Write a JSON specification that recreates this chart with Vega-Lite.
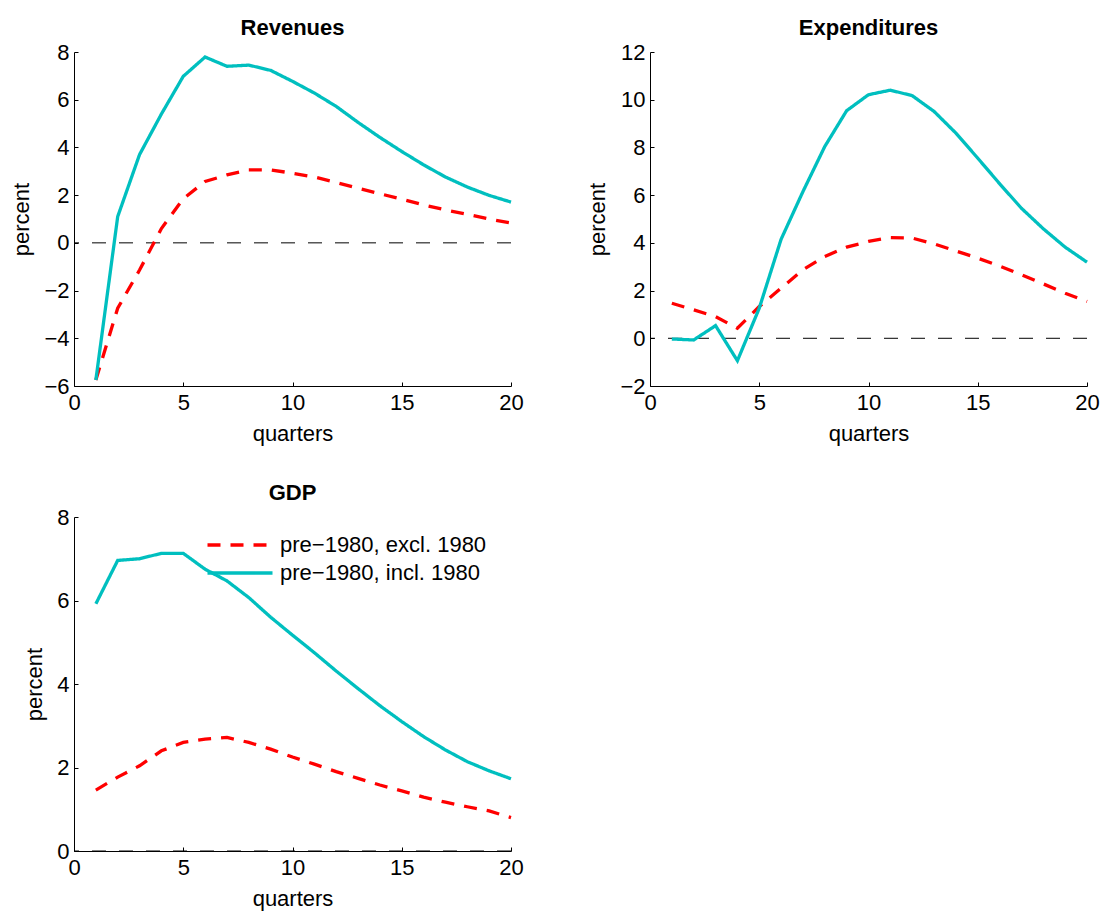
{
  "$schema": "https://vega.github.io/schema/vega-lite/v6.json",
  "padding": {"left": 10, "top": 17, "right": 5, "bottom": 5},
  "background": "white",
  "bounds": "flush",
  "columns": 2,
  "spacing": {"row": 131, "column": 139},
  "config": {
    "font": "Liberation Sans",
    "view": {"stroke": null},
    "axis": {
      "grid": false,
      "domainColor": "#000000",
      "tickColor": "#000000",
      "labelColor": "#000000",
      "titleColor": "#000000",
      "labelFontSize": 22,
      "titleFontSize": 22,
      "titleFontWeight": "normal",
      "tickSize": -4,
      "labelPadding": 10,
      "labelFlush": false,
      "labelOverlap": false,
      "labelFont": "Liberation Sans",
      "titleFont": "Liberation Sans"
    },
    "axisY": {"titlePadding": 10, "labelPadding": 9},
    "axisX": {"titlePadding": 10},
    "title": {"fontSize": 22, "fontWeight": "bold", "color": "#000000", "offset": 1, "font": "Liberation Sans"},
    "legend": {"labelFontSize": 22, "labelColor": "#000000", "labelFont": "Liberation Sans", "padding": 0, "labelLimit": 0}
  },
  "datasets": {
    "zero": [{"z": 0}],
    "d": [
      {"panel": "Revenues", "s": "pre−1980, excl. 1980", "q": 1, "v": -5.75},
      {"panel": "Revenues", "s": "pre−1980, excl. 1980", "q": 2, "v": -2.74},
      {"panel": "Revenues", "s": "pre−1980, excl. 1980", "q": 3, "v": -1.14},
      {"panel": "Revenues", "s": "pre−1980, excl. 1980", "q": 4, "v": 0.6},
      {"panel": "Revenues", "s": "pre−1980, excl. 1980", "q": 5, "v": 1.85},
      {"panel": "Revenues", "s": "pre−1980, excl. 1980", "q": 6, "v": 2.57},
      {"panel": "Revenues", "s": "pre−1980, excl. 1980", "q": 7, "v": 2.85},
      {"panel": "Revenues", "s": "pre−1980, excl. 1980", "q": 8, "v": 3.06},
      {"panel": "Revenues", "s": "pre−1980, excl. 1980", "q": 9, "v": 3.06},
      {"panel": "Revenues", "s": "pre−1980, excl. 1980", "q": 10, "v": 2.92},
      {"panel": "Revenues", "s": "pre−1980, excl. 1980", "q": 11, "v": 2.76},
      {"panel": "Revenues", "s": "pre−1980, excl. 1980", "q": 12, "v": 2.53},
      {"panel": "Revenues", "s": "pre−1980, excl. 1980", "q": 13, "v": 2.29},
      {"panel": "Revenues", "s": "pre−1980, excl. 1980", "q": 14, "v": 2.06},
      {"panel": "Revenues", "s": "pre−1980, excl. 1980", "q": 15, "v": 1.83},
      {"panel": "Revenues", "s": "pre−1980, excl. 1980", "q": 16, "v": 1.59},
      {"panel": "Revenues", "s": "pre−1980, excl. 1980", "q": 17, "v": 1.38},
      {"panel": "Revenues", "s": "pre−1980, excl. 1980", "q": 18, "v": 1.2},
      {"panel": "Revenues", "s": "pre−1980, excl. 1980", "q": 19, "v": 1.0},
      {"panel": "Revenues", "s": "pre−1980, excl. 1980", "q": 20, "v": 0.83},
      {"panel": "Revenues", "s": "pre−1980, incl. 1980", "q": 1, "v": -5.75},
      {"panel": "Revenues", "s": "pre−1980, incl. 1980", "q": 2, "v": 1.1},
      {"panel": "Revenues", "s": "pre−1980, incl. 1980", "q": 3, "v": 3.7},
      {"panel": "Revenues", "s": "pre−1980, incl. 1980", "q": 4, "v": 5.4},
      {"panel": "Revenues", "s": "pre−1980, incl. 1980", "q": 5, "v": 6.98},
      {"panel": "Revenues", "s": "pre−1980, incl. 1980", "q": 6, "v": 7.79},
      {"panel": "Revenues", "s": "pre−1980, incl. 1980", "q": 7, "v": 7.4},
      {"panel": "Revenues", "s": "pre−1980, incl. 1980", "q": 8, "v": 7.45},
      {"panel": "Revenues", "s": "pre−1980, incl. 1980", "q": 9, "v": 7.23},
      {"panel": "Revenues", "s": "pre−1980, incl. 1980", "q": 10, "v": 6.77},
      {"panel": "Revenues", "s": "pre−1980, incl. 1980", "q": 11, "v": 6.28},
      {"panel": "Revenues", "s": "pre−1980, incl. 1980", "q": 12, "v": 5.72},
      {"panel": "Revenues", "s": "pre−1980, incl. 1980", "q": 13, "v": 5.05},
      {"panel": "Revenues", "s": "pre−1980, incl. 1980", "q": 14, "v": 4.42},
      {"panel": "Revenues", "s": "pre−1980, incl. 1980", "q": 15, "v": 3.83},
      {"panel": "Revenues", "s": "pre−1980, incl. 1980", "q": 16, "v": 3.27},
      {"panel": "Revenues", "s": "pre−1980, incl. 1980", "q": 17, "v": 2.76},
      {"panel": "Revenues", "s": "pre−1980, incl. 1980", "q": 18, "v": 2.34},
      {"panel": "Revenues", "s": "pre−1980, incl. 1980", "q": 19, "v": 1.99},
      {"panel": "Revenues", "s": "pre−1980, incl. 1980", "q": 20, "v": 1.71},
      {"panel": "Expenditures", "s": "pre−1980, excl. 1980", "q": 1, "v": 1.47},
      {"panel": "Expenditures", "s": "pre−1980, excl. 1980", "q": 2, "v": 1.19},
      {"panel": "Expenditures", "s": "pre−1980, excl. 1980", "q": 3, "v": 0.91},
      {"panel": "Expenditures", "s": "pre−1980, excl. 1980", "q": 4, "v": 0.42},
      {"panel": "Expenditures", "s": "pre−1980, excl. 1980", "q": 5, "v": 1.33},
      {"panel": "Expenditures", "s": "pre−1980, excl. 1980", "q": 6, "v": 2.1},
      {"panel": "Expenditures", "s": "pre−1980, excl. 1980", "q": 7, "v": 2.87},
      {"panel": "Expenditures", "s": "pre−1980, excl. 1980", "q": 8, "v": 3.43},
      {"panel": "Expenditures", "s": "pre−1980, excl. 1980", "q": 9, "v": 3.82},
      {"panel": "Expenditures", "s": "pre−1980, excl. 1980", "q": 10, "v": 4.06},
      {"panel": "Expenditures", "s": "pre−1980, excl. 1980", "q": 11, "v": 4.22},
      {"panel": "Expenditures", "s": "pre−1980, excl. 1980", "q": 12, "v": 4.2},
      {"panel": "Expenditures", "s": "pre−1980, excl. 1980", "q": 13, "v": 3.96},
      {"panel": "Expenditures", "s": "pre−1980, excl. 1980", "q": 14, "v": 3.66},
      {"panel": "Expenditures", "s": "pre−1980, excl. 1980", "q": 15, "v": 3.36},
      {"panel": "Expenditures", "s": "pre−1980, excl. 1980", "q": 16, "v": 3.03},
      {"panel": "Expenditures", "s": "pre−1980, excl. 1980", "q": 17, "v": 2.66},
      {"panel": "Expenditures", "s": "pre−1980, excl. 1980", "q": 18, "v": 2.28},
      {"panel": "Expenditures", "s": "pre−1980, excl. 1980", "q": 19, "v": 1.89},
      {"panel": "Expenditures", "s": "pre−1980, excl. 1980", "q": 20, "v": 1.54},
      {"panel": "Expenditures", "s": "pre−1980, incl. 1980", "q": 1, "v": -0.03},
      {"panel": "Expenditures", "s": "pre−1980, incl. 1980", "q": 2, "v": -0.07},
      {"panel": "Expenditures", "s": "pre−1980, incl. 1980", "q": 3, "v": 0.53},
      {"panel": "Expenditures", "s": "pre−1980, incl. 1980", "q": 4, "v": -0.94},
      {"panel": "Expenditures", "s": "pre−1980, incl. 1980", "q": 5, "v": 1.26},
      {"panel": "Expenditures", "s": "pre−1980, incl. 1980", "q": 6, "v": 4.15},
      {"panel": "Expenditures", "s": "pre−1980, incl. 1980", "q": 7, "v": 6.15},
      {"panel": "Expenditures", "s": "pre−1980, incl. 1980", "q": 8, "v": 8.04},
      {"panel": "Expenditures", "s": "pre−1980, incl. 1980", "q": 9, "v": 9.54},
      {"panel": "Expenditures", "s": "pre−1980, incl. 1980", "q": 10, "v": 10.21},
      {"panel": "Expenditures", "s": "pre−1980, incl. 1980", "q": 11, "v": 10.4},
      {"panel": "Expenditures", "s": "pre−1980, incl. 1980", "q": 12, "v": 10.17},
      {"panel": "Expenditures", "s": "pre−1980, incl. 1980", "q": 13, "v": 9.51},
      {"panel": "Expenditures", "s": "pre−1980, incl. 1980", "q": 14, "v": 8.6},
      {"panel": "Expenditures", "s": "pre−1980, incl. 1980", "q": 15, "v": 7.55},
      {"panel": "Expenditures", "s": "pre−1980, incl. 1980", "q": 16, "v": 6.48},
      {"panel": "Expenditures", "s": "pre−1980, incl. 1980", "q": 17, "v": 5.45},
      {"panel": "Expenditures", "s": "pre−1980, incl. 1980", "q": 18, "v": 4.59},
      {"panel": "Expenditures", "s": "pre−1980, incl. 1980", "q": 19, "v": 3.82},
      {"panel": "Expenditures", "s": "pre−1980, incl. 1980", "q": 20, "v": 3.19},
      {"panel": "GDP", "s": "pre−1980, excl. 1980", "q": 1, "v": 1.46},
      {"panel": "GDP", "s": "pre−1980, excl. 1980", "q": 2, "v": 1.77},
      {"panel": "GDP", "s": "pre−1980, excl. 1980", "q": 3, "v": 2.04},
      {"panel": "GDP", "s": "pre−1980, excl. 1980", "q": 4, "v": 2.4},
      {"panel": "GDP", "s": "pre−1980, excl. 1980", "q": 5, "v": 2.6},
      {"panel": "GDP", "s": "pre−1980, excl. 1980", "q": 6, "v": 2.68},
      {"panel": "GDP", "s": "pre−1980, excl. 1980", "q": 7, "v": 2.72},
      {"panel": "GDP", "s": "pre−1980, excl. 1980", "q": 8, "v": 2.6},
      {"panel": "GDP", "s": "pre−1980, excl. 1980", "q": 9, "v": 2.44},
      {"panel": "GDP", "s": "pre−1980, excl. 1980", "q": 10, "v": 2.25},
      {"panel": "GDP", "s": "pre−1980, excl. 1980", "q": 11, "v": 2.08},
      {"panel": "GDP", "s": "pre−1980, excl. 1980", "q": 12, "v": 1.9},
      {"panel": "GDP", "s": "pre−1980, excl. 1980", "q": 13, "v": 1.74},
      {"panel": "GDP", "s": "pre−1980, excl. 1980", "q": 14, "v": 1.58},
      {"panel": "GDP", "s": "pre−1980, excl. 1980", "q": 15, "v": 1.44},
      {"panel": "GDP", "s": "pre−1980, excl. 1980", "q": 16, "v": 1.29},
      {"panel": "GDP", "s": "pre−1980, excl. 1980", "q": 17, "v": 1.17},
      {"panel": "GDP", "s": "pre−1980, excl. 1980", "q": 18, "v": 1.06},
      {"panel": "GDP", "s": "pre−1980, excl. 1980", "q": 19, "v": 0.96},
      {"panel": "GDP", "s": "pre−1980, excl. 1980", "q": 20, "v": 0.8},
      {"panel": "GDP", "s": "pre−1980, incl. 1980", "q": 1, "v": 5.92},
      {"panel": "GDP", "s": "pre−1980, incl. 1980", "q": 2, "v": 6.96},
      {"panel": "GDP", "s": "pre−1980, incl. 1980", "q": 3, "v": 7.0},
      {"panel": "GDP", "s": "pre−1980, incl. 1980", "q": 4, "v": 7.13},
      {"panel": "GDP", "s": "pre−1980, incl. 1980", "q": 5, "v": 7.13},
      {"panel": "GDP", "s": "pre−1980, incl. 1980", "q": 6, "v": 6.75},
      {"panel": "GDP", "s": "pre−1980, incl. 1980", "q": 7, "v": 6.47},
      {"panel": "GDP", "s": "pre−1980, incl. 1980", "q": 8, "v": 6.07},
      {"panel": "GDP", "s": "pre−1980, incl. 1980", "q": 9, "v": 5.6},
      {"panel": "GDP", "s": "pre−1980, incl. 1980", "q": 10, "v": 5.17},
      {"panel": "GDP", "s": "pre−1980, incl. 1980", "q": 11, "v": 4.75},
      {"panel": "GDP", "s": "pre−1980, incl. 1980", "q": 12, "v": 4.31},
      {"panel": "GDP", "s": "pre−1980, incl. 1980", "q": 13, "v": 3.89},
      {"panel": "GDP", "s": "pre−1980, incl. 1980", "q": 14, "v": 3.48},
      {"panel": "GDP", "s": "pre−1980, incl. 1980", "q": 15, "v": 3.1},
      {"panel": "GDP", "s": "pre−1980, incl. 1980", "q": 16, "v": 2.74},
      {"panel": "GDP", "s": "pre−1980, incl. 1980", "q": 17, "v": 2.42},
      {"panel": "GDP", "s": "pre−1980, incl. 1980", "q": 18, "v": 2.14},
      {"panel": "GDP", "s": "pre−1980, incl. 1980", "q": 19, "v": 1.92},
      {"panel": "GDP", "s": "pre−1980, incl. 1980", "q": 20, "v": 1.73}
    ]
  },
  "resolve": {"scale": {"color": "independent", "strokeDash": "independent"}, "legend": {"color": "independent", "strokeDash": "independent"}},
  "concat": [
    {
      "title": "Revenues",
      "width": 437,
      "height": 334,
      "layer": [
        {
          "data": {"name": "zero"},
          "mark": {"type": "rule", "color": "#000000", "strokeWidth": 1, "strokeDash": [14, 13]},
          "encoding": {"y": {"field": "z", "type": "quantitative"}}
        },
        {
          "data": {"name": "d"},
          "transform": [{"filter": "datum.panel === 'Revenues'"}],
          "mark": {"type": "line", "strokeWidth": 3.3},
          "encoding": {
            "x": {"field": "q", "type": "quantitative", "scale": {"domain": [0, 20], "nice": false}, "axis": {"values": [0, 5, 10, 15, 20], "title": "quarters"}},
            "y": {"field": "v", "type": "quantitative", "scale": {"domain": [-6, 8], "nice": false, "zero": false}, "axis": {"values": [-6, -4, -2, 0, 2, 4, 6, 8], "title": "percent"}},
            "color": {"field": "s", "type": "nominal", "scale": {"domain": ["pre−1980, excl. 1980", "pre−1980, incl. 1980"], "range": ["#ff0000", "#00bfbf"]}, "legend": null},
            "strokeDash": {"field": "s", "type": "nominal", "scale": {"domain": ["pre−1980, excl. 1980", "pre−1980, incl. 1980"], "range": [[13, 10], [1, 0]]}, "legend": null}
          }
        }
      ]
    },
    {
      "title": "Expenditures",
      "width": 437,
      "height": 334,
      "layer": [
        {
          "data": {"name": "zero"},
          "mark": {"type": "rule", "color": "#000000", "strokeWidth": 1, "strokeDash": [14, 13]},
          "encoding": {"y": {"field": "z", "type": "quantitative"}}
        },
        {
          "data": {"name": "d"},
          "transform": [{"filter": "datum.panel === 'Expenditures'"}],
          "mark": {"type": "line", "strokeWidth": 3.3},
          "encoding": {
            "x": {"field": "q", "type": "quantitative", "scale": {"domain": [0, 20], "nice": false}, "axis": {"values": [0, 5, 10, 15, 20], "title": "quarters"}},
            "y": {"field": "v", "type": "quantitative", "scale": {"domain": [-2, 12], "nice": false, "zero": false}, "axis": {"values": [-2, 0, 2, 4, 6, 8, 10, 12], "title": "percent"}},
            "color": {"field": "s", "type": "nominal", "scale": {"domain": ["pre−1980, excl. 1980", "pre−1980, incl. 1980"], "range": ["#ff0000", "#00bfbf"]}, "legend": null},
            "strokeDash": {"field": "s", "type": "nominal", "scale": {"domain": ["pre−1980, excl. 1980", "pre−1980, incl. 1980"], "range": [[13, 10], [1, 0]]}, "legend": null}
          }
        }
      ]
    },
    {
      "title": "GDP",
      "width": 437,
      "height": 334,
      "layer": [
        {
          "data": {"name": "zero"},
          "mark": {"type": "rule", "color": "#000000", "strokeWidth": 1, "strokeDash": [14, 13]},
          "encoding": {"y": {"field": "z", "type": "quantitative"}}
        },
        {
          "data": {"name": "d"},
          "transform": [{"filter": "datum.panel === 'GDP'"}],
          "mark": {"type": "line", "strokeWidth": 3.3},
          "encoding": {
            "x": {"field": "q", "type": "quantitative", "scale": {"domain": [0, 20], "nice": false}, "axis": {"values": [0, 5, 10, 15, 20], "title": "quarters"}},
            "y": {"field": "v", "type": "quantitative", "scale": {"domain": [0, 8], "nice": false, "zero": false}, "axis": {"values": [0, 2, 4, 6, 8], "title": "percent"}},
            "color": {"field": "s", "type": "nominal", "scale": {"domain": ["pre−1980, excl. 1980", "pre−1980, incl. 1980"], "range": ["#ff0000", "#00bfbf"]}, "legend": {"title": null, "orient": "none", "legendX": 155, "legendY": 17, "symbolType": "M-5,0H5", "symbolSize": 169, "symbolStrokeWidth": 3.3, "labelOffset": 29, "rowPadding": 6, "labelFontSize": 22, "labelLimit": 0}},
            "strokeDash": {"field": "s", "type": "nominal", "scale": {"domain": ["pre−1980, excl. 1980", "pre−1980, incl. 1980"], "range": [[13, 10], [1, 0]]}, "legend": {"title": null, "orient": "none", "legendX": 155, "legendY": 17, "symbolType": "M-5,0H5", "symbolSize": 169, "symbolStrokeWidth": 3.3, "labelOffset": 29, "rowPadding": 6, "labelFontSize": 22, "labelLimit": 0}}
          }
        }
      ]
    }
  ]
}
